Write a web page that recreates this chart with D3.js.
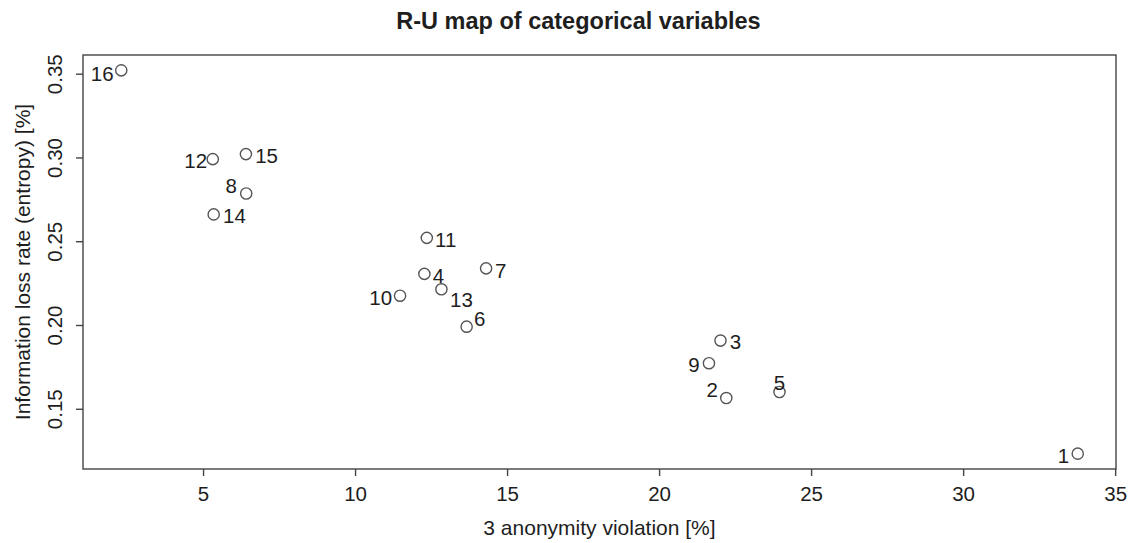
<!DOCTYPE html>
<html>
<head>
<meta charset="utf-8">
<script src="https://cdn.jsdelivr.net/npm/d3@7"></script>
<style>
  html, body { margin: 0; padding: 0; background: #fff; }
  svg { display: block; font-family: "Liberation Sans", Arial, Helvetica, sans-serif; }
</style>
</head>
<body>
<svg id="chart" width="1136" height="543"></svg>
<script>
// Categorical variables: id, anonymity violation (%), information loss rate (entropy)
const ids        = [1, 2, 3, 4, 5, 6, 7, 8, 9, 10, 11, 12, 13, 14, 15, 16];
const violation  = [33.77, 22.21, 22.02, 12.28, 23.96, 13.67, 14.31, 6.42, 21.64, 11.48, 12.36, 5.32, 12.84, 5.35, 6.41, 2.31];
const infoLoss   = [0.1232, 0.1564, 0.1907, 0.2305, 0.1600, 0.1990, 0.2338, 0.2785, 0.1772, 0.2175, 0.2520, 0.2990, 0.2213, 0.2660, 0.3020, 0.3520];

const xTicks = [5, 10, 15, 20, 25, 30, 35];
const yTicks = [0.15, 0.20, 0.25, 0.30, 0.35];

// Where each id label sits around its point: [dx, dy, anchor] in pixels
const labelPlacement = [
  [-8.5, 1.8, "end"],   // 1
  [-8.4, -8.3, "end"],  // 2
  [9.3, 1.5, "start"],  // 3
  [8.4, 1.5, "start"],  // 4
  [0, -9.3, "middle"],  // 5
  [7.3, -7.9, "start"], // 6
  [9, 2, "start"],      // 7
  [-9.3, -7.8, "end"],  // 8
  [-9.3, 1.7, "end"],   // 9
  [-8, 2, "end"],       // 10
  [8.3, 1.5, "start"],  // 11
  [-5.6, 2, "end"],     // 12
  [8.7, 10, "start"],   // 13
  [9.4, 1.5, "start"],  // 14
  [9.3, 1.8, "start"],  // 15
  [-7.7, 3, "end"]      // 16
];

const points = ids.map((id, i) => ({ id, x: violation[i], y: infoLoss[i], lab: labelPlacement[i] }));

const plot = { left: 83, top: 55, right: 1116, bottom: 469 };
const ink = "#1e1e1e";
const frame = "#444";

const svg = d3.select("#chart");

// Domains padded by 4% of the data range on each side
function padded(vals) {
  const [lo, hi] = d3.extent(vals);
  const p = (hi - lo) * 0.04;
  return [lo - p, hi + p];
}

const x = d3.scaleLinear().domain(padded(violation)).range([plot.left, plot.right]);
const y = d3.scaleLinear().domain(padded(infoLoss)).range([plot.bottom, plot.top]);

// Plot frame
svg.append("rect")
  .attr("x", plot.left).attr("y", plot.top)
  .attr("width", plot.right - plot.left).attr("height", plot.bottom - plot.top)
  .attr("fill", "none").attr("stroke", frame).attr("stroke-width", 1.4);

// X axis
const gx = svg.append("g")
  .attr("transform", `translate(0,${plot.bottom})`)
  .call(d3.axisBottom(x).tickValues(xTicks).tickSize(7).tickFormat(d3.format("d")));
gx.select(".domain").remove();
gx.selectAll(".tick line").attr("stroke", frame).attr("stroke-width", 1.4);
gx.selectAll(".tick text")
  .attr("y", 32).attr("dy", 0)
  .attr("fill", ink)
  .style("font-size", "20.5px")
  .style("font-family", "'Liberation Sans', Arial, sans-serif");

// Y axis with labels turned parallel to the axis
const gy = svg.append("g")
  .attr("transform", `translate(${plot.left},0)`)
  .call(d3.axisLeft(y).tickValues(yTicks).tickSize(7).tickFormat(d3.format(".2f")));
gy.select(".domain").remove();
gy.selectAll(".tick line").attr("stroke", frame).attr("stroke-width", 1.4);
gy.selectAll(".tick text")
  .attr("transform", "rotate(-90)")
  .attr("x", 0).attr("y", -21.5).attr("dy", 0)
  .attr("text-anchor", "middle")
  .attr("fill", ink)
  .style("font-size", "20.5px")
  .style("font-family", "'Liberation Sans', Arial, sans-serif");

// Points
svg.append("g").selectAll("circle")
  .data(points)
  .join("circle")
  .attr("cx", d => x(d.x))
  .attr("cy", d => y(d.y))
  .attr("r", 5.6)
  .attr("fill", "none")
  .attr("stroke", "#555")
  .attr("stroke-width", 1.4);

// Point labels
const labelSize = 20.5;
svg.append("g").selectAll("text")
  .data(points)
  .join("text")
  .attr("x", d => x(d.x) + d.lab[0])
  .attr("y", d => y(d.y) + d.lab[1] + labelSize * 0.358)
  .attr("text-anchor", d => d.lab[2])
  .attr("fill", ink)
  .style("font-size", labelSize + "px")
  .text(d => d.id);

// Titles
svg.append("text")
  .attr("x", 578.5).attr("y", 28.5)
  .attr("text-anchor", "middle")
  .attr("fill", ink)
  .style("font-size", "23.5px")
  .style("font-weight", "bold")
  .text("R-U map of categorical variables");

svg.append("text")
  .attr("x", (plot.left + plot.right) / 2).attr("y", 535)
  .attr("text-anchor", "middle")
  .attr("fill", ink)
  .style("font-size", "21px")
  .text("3 anonymity violation [%]");

svg.append("text")
  .attr("transform", `translate(29.5,${(plot.top + plot.bottom) / 2}) rotate(-90)`)
  .attr("text-anchor", "middle")
  .attr("fill", ink)
  .style("font-size", "21px")
  .text("Information loss rate (entropy) [%]");
</script>
</body>
</html>
